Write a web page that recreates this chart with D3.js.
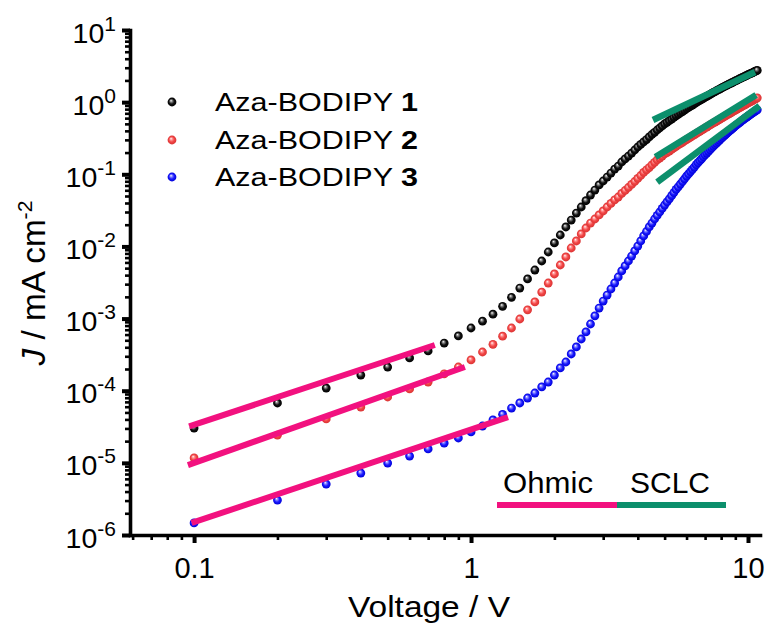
<!DOCTYPE html>
<html>
<head>
<meta charset="utf-8">
<script src="https://cdn.jsdelivr.net/npm/d3@7"></script>
<style>
  html, body { margin: 0; padding: 0; background: #ffffff; }
  svg { display: block; font-family: "Liberation Sans", Arial, Helvetica, sans-serif; }
</style>
</head>
<body>
<svg id="chart" width="772" height="628"></svg>
<script>
// ---- data: J-V curves (J in mA cm^-2, V in volts) ----
const voltage = [
  0.1, 0.2, 0.3, 0.4, 0.5, 0.6, 0.7, 0.8, 0.9, 1.0,
  1.1, 1.2, 1.3, 1.4, 1.5, 1.6, 1.7, 1.8, 1.9, 2.0,
  2.1, 2.2, 2.3, 2.4, 2.5, 2.6, 2.7, 2.8, 2.9, 3.0,
  3.1, 3.2, 3.3, 3.4, 3.5, 3.6, 3.7, 3.8, 3.9, 4.0,
  4.1, 4.2, 4.3, 4.4, 4.5, 4.6, 4.7, 4.8, 4.9, 5.0,
  5.1, 5.2, 5.3, 5.4, 5.5, 5.6, 5.7, 5.8, 5.9, 6.0,
  6.1, 6.2, 6.3, 6.4, 6.5, 6.6, 6.7, 6.8, 6.9, 7.0,
  7.1, 7.2, 7.3, 7.4, 7.5, 7.6, 7.7, 7.8, 7.9, 8.0,
  8.1, 8.2, 8.3, 8.4, 8.5, 8.6, 8.7, 8.8, 8.9, 9.0,
  9.1, 9.2, 9.3, 9.4, 9.5, 9.6, 9.7, 9.8, 9.9, 10.0,
  10.1, 10.2, 10.3, 10.4, 10.5, 10.6, 10.7, 10.8
];

const jAza1 = [
  3.04e-5, 6.76e-5, 1.09e-4, 1.65e-4, 2.13e-4, 2.85e-4, 3.56e-4, 4.58e-4, 5.74e-4, 7.40e-4,
  9.20e-4, 1.15e-3, 1.48e-3, 1.97e-3, 2.65e-3, 3.54e-3, 4.71e-3, 6.28e-3, 8.37e-3, 1.12e-2,
  1.44e-2, 1.86e-2, 2.32e-2, 2.90e-2, 3.52e-2, 4.30e-2, 5.16e-2, 6.05e-2, 7.11e-2, 8.07e-2,
  9.16e-2, 0.104, 0.118, 0.130, 0.148, 0.163, 0.179, 0.197, 0.217, 0.239,
  0.259, 0.281, 0.303, 0.329, 0.356, 0.382, 0.411, 0.438, 0.468, 0.498,
  0.525, 0.553, 0.582, 0.614, 0.647, 0.678, 0.708, 0.741, 0.774, 0.811,
  0.843, 0.877, 0.912, 0.948, 0.986, 1.021, 1.057, 1.092, 1.130, 1.169,
  1.205, 1.242, 1.282, 1.321, 1.361, 1.400, 1.439, 1.476, 1.517, 1.560,
  1.600, 1.637, 1.679, 1.718, 1.762, 1.803, 1.841, 1.884, 1.923, 1.968,
  2.009, 2.051, 2.094, 2.138, 2.183, 2.223, 2.265, 2.312, 2.355, 2.399,
  2.443, 2.483, 2.529, 2.570, 2.618, 2.661, 2.710, 2.754
];

const jAza2 = [
  1.17e-5, 2.43e-5, 4.06e-5, 5.94e-5, 8.18e-5, 1.06e-4, 1.32e-4, 1.71e-4, 2.13e-4, 2.67e-4,
  3.44e-4, 4.40e-4, 5.70e-4, 7.40e-4, 9.86e-4, 1.32e-3, 1.70e-3, 2.33e-3, 3.11e-3, 4.15e-3,
  5.53e-3, 7.14e-3, 9.51e-3, 1.19e-2, 1.49e-2, 1.80e-2, 2.11e-2, 2.40e-2, 2.73e-2, 3.10e-2,
  3.52e-2, 3.94e-2, 4.41e-2, 4.84e-2, 5.42e-2, 5.96e-2, 6.56e-2, 7.23e-2, 7.94e-2, 8.75e-2,
  9.62e-2, 0.106, 0.115, 0.124, 0.135, 0.146, 0.158, 0.168, 0.179, 0.191,
  0.200, 0.210, 0.221, 0.232, 0.244, 0.255, 0.266, 0.277, 0.290, 0.303,
  0.315, 0.327, 0.340, 0.353, 0.367, 0.380, 0.394, 0.408, 0.423, 0.438,
  0.452, 0.467, 0.482, 0.498, 0.514, 0.530, 0.546, 0.561, 0.578, 0.596,
  0.612, 0.630, 0.646, 0.664, 0.682, 0.700, 0.718, 0.736, 0.755, 0.774,
  0.793, 0.811, 0.832, 0.851, 0.871, 0.891, 0.910, 0.931, 0.951, 0.973,
  0.993, 1.014, 1.035, 1.057, 1.079, 1.102, 1.122, 1.146
];

const jAza3 = [
  1.47e-6, 3.05e-6, 5.09e-6, 7.23e-6, 9.95e-6, 1.24e-5, 1.56e-5, 1.88e-5, 2.21e-5, 2.68e-5,
  3.24e-5, 3.93e-5, 4.70e-5, 5.75e-5, 6.76e-5, 7.92e-5, 9.29e-5, 1.13e-4, 1.32e-4, 1.65e-4,
  2.07e-4, 2.50e-4, 3.23e-4, 4.04e-4, 5.21e-4, 6.52e-4, 8.41e-4, 1.09e-3, 1.40e-3, 1.75e-3,
  2.12e-3, 2.57e-3, 3.11e-3, 3.77e-3, 4.57e-3, 5.36e-3, 6.28e-3, 7.36e-3, 8.65e-3, 1.01e-2,
  1.19e-2, 1.40e-2, 1.61e-2, 1.86e-2, 2.11e-2, 2.40e-2, 2.69e-2, 3.00e-2, 3.36e-2, 3.75e-2,
  4.14e-2, 4.57e-2, 5.06e-2, 5.58e-2, 6.17e-2, 6.71e-2, 7.31e-2, 7.94e-2, 8.65e-2, 9.42e-2,
  0.101, 0.109, 0.117, 0.126, 0.136, 0.145, 0.154, 0.164, 0.175, 0.186,
  0.197, 0.208, 0.220, 0.232, 0.245, 0.258, 0.270, 0.284, 0.298, 0.313,
  0.326, 0.340, 0.355, 0.371, 0.387, 0.402, 0.417, 0.433, 0.450, 0.467,
  0.483, 0.499, 0.516, 0.533, 0.552, 0.569, 0.586, 0.604, 0.621, 0.640,
  0.656, 0.675, 0.692, 0.711, 0.730, 0.746, 0.766, 0.783
];

// Linear fits in the Ohmic (low field) and SCLC (high field) regimes: [V, J] end points
const ohmicFit1 = [[0.096, 3.2e-5], [0.74, 4.3e-4]];
const ohmicFit2 = [[0.095, 9.3e-6], [0.95, 2.13e-4]];
const ohmicFit3 = [[0.098, 1.47e-6], [1.36, 4.3e-5]];
const sclcFit1  = [[4.54, 0.566], [10.6, 2.62]];
const sclcFit2  = [[4.63, 0.174], [10.7, 1.26]];
const sclcFit3  = [[4.70, 0.078], [11.0, 0.885]];

const seriesLabels = ["1", "2", "3"];
const xTickValues = [0.1, 1, 10];
const xTickLabels = ["0.1", "1", "10"];
const yTickExponents = [-6, -5, -4, -3, -2, -1, 0, 1];
const regimeLabels = ["Ohmic", "SCLC"];

// ---- drawing ----
const svg = d3.select("#chart");
const FONT = '"Liberation Sans", Arial, Helvetica, sans-serif';
const PINK = "#f2117f";
const GREEN = "#0c8f6c";

const x = d3.scaleLog().domain([0.0587, 11.05]).range([130, 760]);
const y = d3.scaleLog().domain([1e-6, 10]).range([535, 30]);

const series = [
  { values: jAza1, id: "ballBlack", stops: ["#ffffff", "#8a8a8a", "#111111", "#000000"] },
  { values: jAza2, id: "ballRed",   stops: ["#ffffff", "#ff9a9a", "#f24646", "#d93333"] },
  { values: jAza3, id: "ballBlue",  stops: ["#ffffff", "#8c8cff", "#1a1aff", "#0000d8"] }
];

// sphere-like marker shading
const defs = svg.append("defs");
series.forEach(s => {
  const g = defs.append("radialGradient")
    .attr("id", s.id)
    .attr("cx", "0.5").attr("cy", "0.5").attr("r", "0.5")
    .attr("fx", "0.38").attr("fy", "0.33");
  [0, 0.25, 0.6, 1].forEach((o, i) => {
    g.append("stop").attr("offset", o).attr("stop-color", s.stops[i]);
  });
});

// axes
const minorX = [];
[0.01, 0.1, 1].forEach(d => { for (let k = 2; k <= 9; k++) { const v = k * d; if (v >= 0.0587 && v <= 11.05) minorX.push(v); } });
const minorY = [];
for (let e = -6; e < 1; e++) for (let k = 2; k <= 9; k++) minorY.push(k * Math.pow(10, e));

const gx = svg.append("g").attr("transform", "translate(0,535)");
gx.call(d3.axisBottom(x).tickValues(minorX).tickSize(5).tickSizeOuter(0).tickFormat(""));
gx.call(g => g.selectAll(".tick line").attr("stroke-width", 2.6));
const gxMajor = svg.append("g").attr("transform", "translate(0,535)");
gxMajor.call(d3.axisBottom(x).tickValues(xTickValues).tickSize(8).tickSizeOuter(0)
  .tickFormat((d, i) => xTickLabels[i]));
gxMajor.select(".domain").remove();
gxMajor.selectAll(".tick line").attr("stroke-width", 4);
gxMajor.selectAll(".tick text")
  .attr("y", 43).attr("dy", null)
  .attr("font-size", 29).attr("font-family", FONT).attr("fill", "#000");

const gy = svg.append("g").attr("transform", "translate(130,0)");
gy.call(d3.axisLeft(y).tickValues(minorY).tickSize(5).tickSizeOuter(0).tickFormat(""));
gy.selectAll(".tick line").attr("stroke-width", 2.6);
const gyMajor = svg.append("g").attr("transform", "translate(130,0)");
gyMajor.call(d3.axisLeft(y).tickValues(yTickExponents.map(e => Math.pow(10, e)))
  .tickSize(8).tickSizeOuter(0).tickFormat(""));
gyMajor.select(".domain").remove();
gyMajor.selectAll(".tick line").attr("stroke-width", 4);

[gx, gy].forEach(g => g.select(".domain")
  .attr("stroke-width", 3.6).attr("stroke-linecap", "square"));

// y tick labels: 10^n
const yLabels = svg.append("g").attr("font-family", FONT).attr("fill", "#000");
yTickExponents.forEach(e => {
  const t = yLabels.append("text")
    .attr("x", 116).attr("y", y(Math.pow(10, e)) + 12.5)
    .attr("text-anchor", "end").attr("font-size", 28.5);
  t.append("tspan").text("10");
  t.append("tspan").attr("font-size", 21).attr("dy", -12).text(String(e));
});

// scale a text's run to a measured width
function stretchTo(g, textSel, target) {
  const w = textSel.node().getComputedTextLength();
  const s = w > 0 ? target / w : 1;
  g.attr("transform", g.attr("transform") + ` scale(${s},1)`);
}

// axis titles
const xt = svg.append("g").attr("transform", "translate(429,617)");
const xtText = xt.append("text").attr("text-anchor", "middle")
  .attr("font-size", 30).attr("font-family", FONT).text("Voltage / V");
stretchTo(xt, xtText, 162);

const yt = svg.append("g").attr("transform", "translate(45,283) rotate(-90)");
const ytText = yt.append("text").attr("text-anchor", "middle")
  .attr("font-size", 33).attr("font-family", FONT);
ytText.append("tspan").attr("font-style", "italic").text("J");
ytText.append("tspan").text(" / mA cm");
ytText.append("tspan").attr("font-size", 21).attr("dy", -13).text("-2");
stretchTo(yt, ytText, 165);

// data markers
const pts = svg.append("g");
series.forEach(s => {
  const n = Math.min(voltage.length, s.values.length);
  pts.append("g").selectAll("circle")
    .data(d3.range(n))
    .join("circle")
    .attr("cx", i => x(voltage[i]))
    .attr("cy", i => y(s.values[i]))
    .attr("r", 4.4)
    .attr("fill", `url(#${s.id})`);
});

// fitted regimes
const fitLine = d3.line().x(d => x(d[0])).y(d => y(d[1]));
const fits = svg.append("g").attr("fill", "none");
[ohmicFit1, ohmicFit2, ohmicFit3].forEach(f => {
  fits.append("path").attr("d", fitLine(f)).attr("stroke", PINK).attr("stroke-width", 6);
});
[sclcFit1, sclcFit2, sclcFit3].forEach(f => {
  fits.append("path").attr("d", fitLine(f)).attr("stroke", GREEN).attr("stroke-width", 6.5);
});

// legend
const legendRows = [102, 140, 177];
const legend = svg.append("g");
series.forEach((s, i) => {
  legend.append("circle").attr("cx", 172).attr("cy", legendRows[i]).attr("r", 4.4)
    .attr("fill", `url(#${s.id})`);
  const lg = legend.append("g").attr("transform", `translate(215,${legendRows[i] + 8.5})`);
  const lt = lg.append("text").attr("font-size", 26).attr("font-family", FONT).attr("fill", "#000");
  lt.append("tspan").text("Aza-BODIPY ");
  lt.append("tspan").attr("font-weight", "bold").text(seriesLabels[i]);
  stretchTo(lg, lt, 203);
});

// regime key
const key = svg.append("g");
key.append("line").attr("x1", 497).attr("x2", 617).attr("y1", 505).attr("y2", 505)
  .attr("stroke", PINK).attr("stroke-width", 6);
key.append("line").attr("x1", 617).attr("x2", 726).attr("y1", 505).attr("y2", 505)
  .attr("stroke", GREEN).attr("stroke-width", 6);
[[503, 90], [630, 80]].forEach((p, i) => {
  const kg = key.append("g").attr("transform", `translate(${p[0]},493)`);
  const kt = kg.append("text").attr("font-size", 29).attr("font-family", FONT)
    .attr("fill", "#000").text(regimeLabels[i]);
  stretchTo(kg, kt, p[1]);
});
</script>
</body>
</html>
